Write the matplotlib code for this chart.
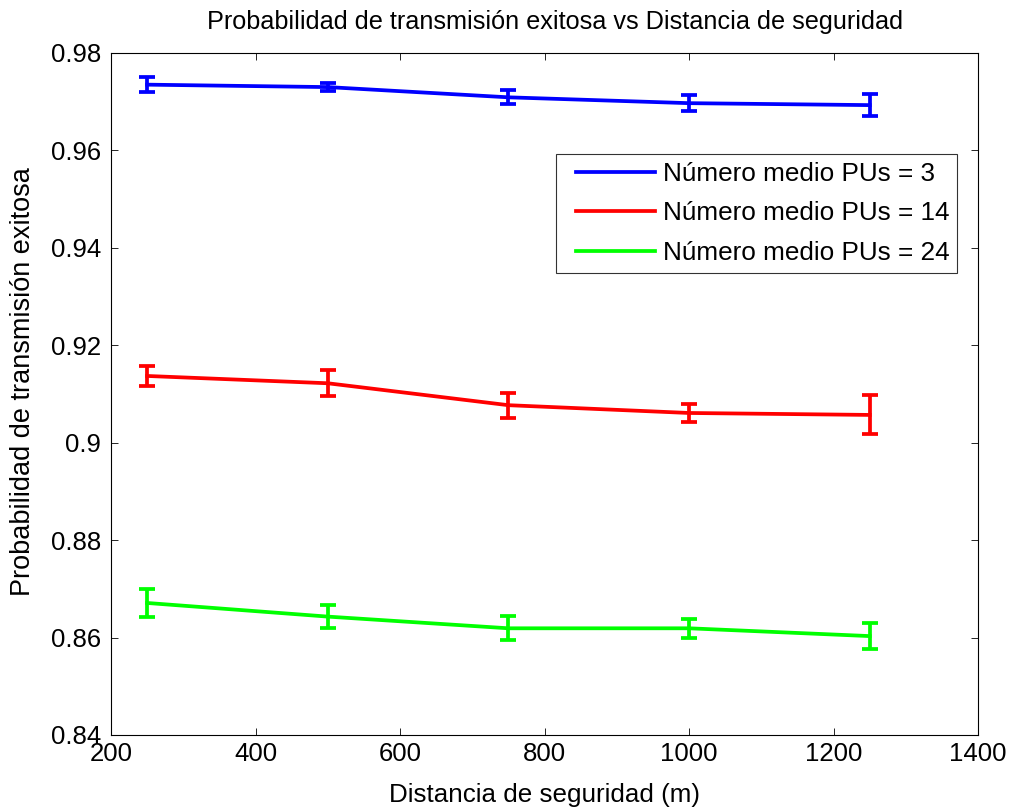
import matplotlib
matplotlib.use("Agg")
import numpy as np
import matplotlib.pyplot as plt
from matplotlib.lines import Line2D
from matplotlib.legend_handler import HandlerLine2D

plt.rcParams['font.family'] = ['Liberation Sans', 'DejaVu Sans']

distancia = [250, 500, 750, 1000, 1250]

p_pu3 = [0.9735, 0.9730, 0.9709, 0.9697, 0.9693]
e_pu3 = [0.0016, 0.0009, 0.0014, 0.0016, 0.0023]

p_pu14 = [0.9137, 0.9122, 0.9077, 0.9061, 0.9057]
e_pu14 = [0.0020, 0.0027, 0.0026, 0.0019, 0.0040]

p_pu24 = [0.8671, 0.8643, 0.8619, 0.8619, 0.8603]
e_pu24 = [0.0029, 0.0024, 0.0025, 0.0020, 0.0026]

etiquetas = ['Número medio PUs = 3', 'Número medio PUs = 14', 'Número medio PUs = 24']
colores = ['#0000ff', '#ff0000', '#00ff00']


class LineaDesplazada(HandlerLine2D):
    """Legend line with a small blank margin before it."""
    def get_xdata(self, legend, xdescent, ydescent, width, height, fontsize):
        x0 = -xdescent + 0.14 * width
        xs = np.array([x0, -xdescent + width])
        return xs, xs


fig = plt.figure(figsize=(10.11, 8.09), dpi=100)
ax = fig.add_axes([0.1098, 0.0915, 0.8576, 0.843])

for y, e, c in zip([p_pu3, p_pu14, p_pu24], [e_pu3, e_pu14, e_pu24], colores):
    ax.errorbar(distancia, y, yerr=e, color=c, linewidth=2.7,
                elinewidth=2.7, capsize=5.5, capthick=2.7)

ax.set_xlim(200, 1400)
ax.set_ylim(0.84, 0.98)
ax.set_xticks(range(200, 1401, 200))
ax.set_yticks([0.84, 0.86, 0.88, 0.90, 0.92, 0.94, 0.96, 0.98])
ax.set_yticklabels(['0.84', '0.86', '0.88', '0.9', '0.92', '0.94', '0.96', '0.98'])
ax.tick_params(direction='in', top=True, right=True, labelsize=18.5, length=5, width=0.6)
ax.tick_params(axis='x', pad=5)
ax.tick_params(axis='y', pad=7)
for s in ax.spines.values():
    s.set_linewidth(0.8)

ax.set_xlabel('Distancia de seguridad (m)', fontsize=18.7, labelpad=12)
ax.set_ylabel('Probabilidad de transmisión exitosa', fontsize=19.5)
ax.yaxis.set_label_coords(-0.087, 0.518)
titulo = ax.set_title('Probabilidad de transmisión exitosa vs Distancia de seguridad',
                      fontsize=18.2, pad=17)
titulo.set_x(0.512)

handles = [Line2D([], [], color=c, linewidth=2.7) for c in colores]
leg = ax.legend(handles, etiquetas, loc='upper right', bbox_to_anchor=(0.9758, 0.852),
                fontsize=18.8, frameon=True, fancybox=False, edgecolor='black',
                handlelength=3.5, handletextpad=0.3, borderpad=0.3, labelspacing=0.6,
                borderaxespad=0, handler_map={Line2D: LineaDesplazada()})
leg.get_frame().set_linewidth(0.8)

fig.savefig('out.png', dpi=100, facecolor='white')
